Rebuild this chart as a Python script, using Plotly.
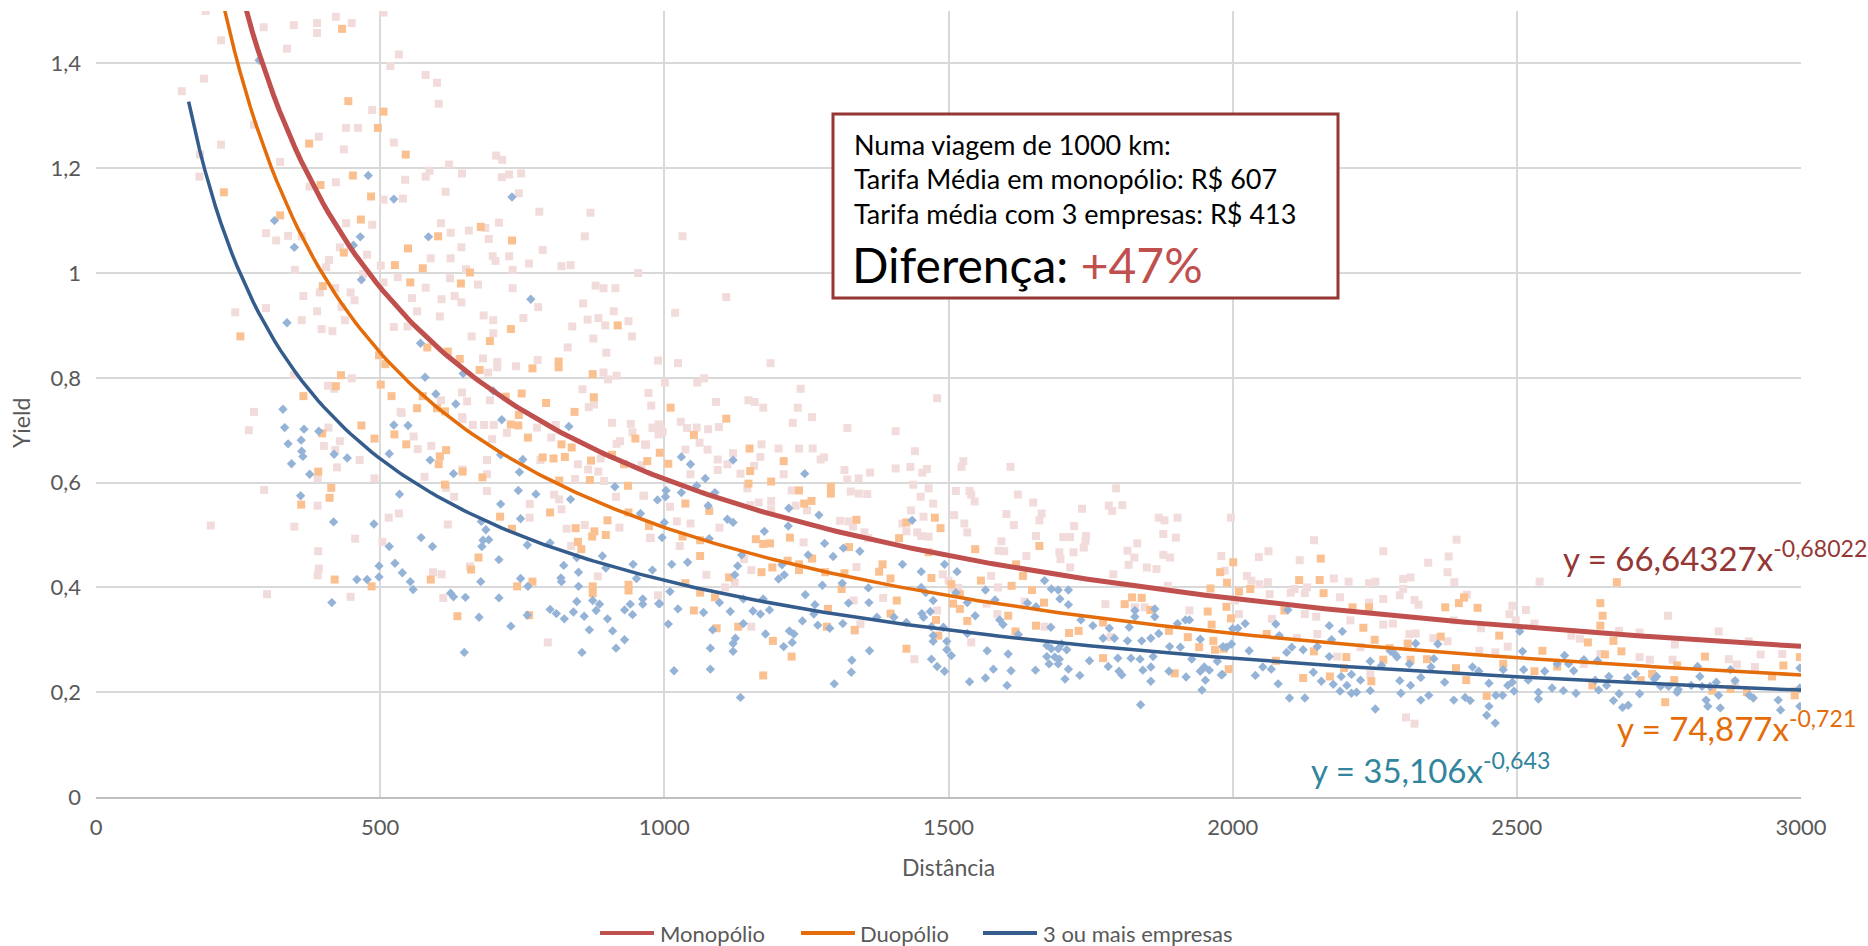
import plotly.graph_objects as go

# ---------------- data ----------------
mono_points = [
    (193,1.50),(220,1.444),(190,1.371),(151,1.347),(295,1.469),(348,1.473),(389,1.477),(389,1.458),
    (422,1.489),(450,1.477),(506,1.497),(336,1.428),(533,1.417),(518,1.395),(580,1.378),(600,1.363),
    (603,1.323),(486,1.311),(440,1.277),(461,1.277),(392,1.260),(436,1.236),(524,1.249),(220,1.245),
    (183,1.226),(324,1.212),(278,1.283),(182,1.184),(376,1.165),(422,1.173),(544,1.178),(580,1.184),
    (587,1.195),(621,1.207),(644,1.190),(704,1.224),(715,1.216),(714,1.183),(727,1.188),(748,1.190),
    (615,1.155),(506,1.140),(540,1.142),(744,1.152),(780,1.117),(870,1.115),(860,1.070),(440,1.095),
    (486,1.092),(607,1.095),(624,1.077),(656,1.081),(685,1.086),(709,1.096),(691,1.065),(643,1.049),
    (698,1.032),(727,1.032),(786,1.044),(299,1.076),(317,1.062),(338,1.071),(362,1.070),(429,1.049),
    (410,1.025),(405,1.011),(477,1.035),(501,1.014),(589,1.028),(624,1.028),(651,1.007),(703,1.023),
    (733,1.006),(762,1.018),(819,1.013),(835,1.015),(954,1.000),(350,1.006),(470,0.998),(531,0.992),
    (506,0.982),(580,0.972),(623,0.990),(672,0.978),(733,0.971),(879,0.976),(893,0.971),(914,0.971),
    (365,0.956),(394,0.963),(421,0.971),(448,0.963),(455,0.948),(556,0.952),(608,0.950),(631,0.956),
    (643,0.944),(857,0.942),(778,0.935),(299,0.933),(245,0.925),(389,0.927),(432,0.935),(565,0.927),
    (605,0.917),(682,0.919),(699,0.910),(752,0.914),(911,0.927),(865,0.911),(884,0.914),(937,0.908),
    (896,0.900),(838,0.898),(362,0.910),(438,0.910),(397,0.893),(416,0.889),(524,0.897),(548,0.898),
    (661,0.879),(699,0.885),(875,0.875),(943,0.879),(830,0.858),(898,0.848),(681,0.837),(706,0.830),
    (706,0.820),(739,0.822),(777,0.834),(690,0.810),(893,0.810),(916,0.804),(901,0.797),(856,0.778),
    (348,0.805),(450,0.799),(408,0.785),(419,0.779),(644,0.772),(607,0.757),(653,0.755),(693,0.757),
    (867,0.744),(876,0.749),(278,0.735),(536,0.735),(644,0.725),
    (1032,1.070),(1109,0.954),(1019,0.924),(989,0.833),(1024,0.828),(1187,0.828),(1001,0.791),
    (1058,0.791),(1070,0.799),(972,0.771),(977,0.747),(1091,0.754),(1148,0.757),(1159,0.754),
    (1174,0.743),(1235,0.743),(1240,0.779),(1480,0.761),(1260,0.725),
    (269,0.700),(296,0.586),(202,0.518),(349,0.516),(301,0.387),(390,0.608),(390,0.556),(391,0.469),
    (392,0.436),(390,0.423),(448,0.382),(401,0.670),(409,0.705),(429,0.679),(421,0.662),(424,0.629),
    (464,0.643),(490,0.608),(456,0.493),(504,0.487),(515,0.533),(533,0.541),(538,0.733),(559,0.688),
    (566,0.664),(578,0.611),(590,0.670),(616,0.590),(630,0.573),(619,0.520),(645,0.721),(645,0.625),
    (663,0.710),(683,0.710),(700,0.710),(688,0.643),(688,0.616),(688,0.584),(697,0.683),(723,0.695),
    (658,0.440),(593,0.429),(608,0.425),(611,0.380),(763,0.559),(763,0.533),(782,0.643),(776,0.705),
    (801,0.686),(809,0.710),(819,0.549),(806,0.577),(815,0.568),(828,0.512),(836,0.479),(843,0.607),
    (848,0.635),(866,0.625),(884,0.621),(894,0.603),(860,0.519),(908,0.714),(916,0.674),(922,0.679),
    (888,0.646),(915,0.573),(921,0.514),(941,0.712),(944,0.696),(968,0.673),(964,0.575),(976,0.494),
    (883,0.421),(795,0.295),(989,0.385),(960,0.633),(979,0.705),(993,0.705),(997,0.697),
    (1029,0.716),(1040,0.704),(1057,0.705),(1077,0.702),(1096,0.706),(980,0.704),(990,0.711),
    (990,0.692),(966,0.672),(1037,0.663),(1062,0.676),(1076,0.663),(1121,0.656),(1094,0.644),
    (1111,0.635),(1094,0.624),(1046,0.616),(1010,0.554),(963,0.575),(975,0.495),(1022,0.526),
    (1046,0.522),(1097,0.514),(1134,0.617),(1171,0.673),(1169,0.649),(1158,0.632),(1146,0.589),
    (1151,0.557),(1166,0.562),(1188,0.565),(1188,0.549),(1201,0.665),(1210,0.616),(1226,0.714),
    (1237,0.665),(1261,0.665),(1275,0.644),(1281,0.648),(1224,0.585),(1231,0.556),(1245,0.486),
    (1251,0.547),(1317,0.624),(1322,0.606),(1322,0.704),(1342,0.608),(1362,0.619),(1328,0.583),
    (1342,0.579),(1357,0.578),(1309,0.527),(1324,0.526),(1332,0.516),(1352,0.505),(1359,0.494),
    (1338,0.439),(1333,0.375),(1345,0.330),(1385,0.380),(1407,0.698),(1407,0.627),(1441,0.660),
    (1433,0.630),(1454,0.619),(1462,0.626),(1438,0.596),(1465,0.589),(1451,0.573),(1473,0.560),
    (1434,0.547),(1456,0.535),(1419,0.522),(1445,0.505),(1452,0.498),(1465,0.497),(1426,0.507),
    (1510,0.538),(1513,0.584),(1523,0.630),(1526,0.641),(1537,0.584),(1540,0.577),(1546,0.564),
    (1528,0.522),(1533,0.505),(1609,0.630),(1622,0.577),(1602,0.540),(1615,0.519),(1593,0.488),
    (1588,0.470),(1598,0.469),(1649,0.562),(1664,0.541),(1660,0.528),(1654,0.498),(1637,0.460),
    (1735,0.550),(1721,0.517),(1702,0.496),(1714,0.496),(1742,0.498),(1738,0.476),(1741,0.489),
    (1695,0.467),(1720,0.467),(1697,0.454),(1714,0.438),(1782,0.556),(1788,0.546),(1795,0.589),
    (1806,0.557),(1832,0.484),(1815,0.470),(1827,0.457),(1817,0.443),(1849,0.438),(1866,0.435),
    (1790,0.425),(1870,0.533),(1880,0.528),(1903,0.533),(1878,0.502),(1900,0.495),(1878,0.462),
    (1890,0.457),(1776,0.368),(1828,0.362),(1845,0.362),(1886,0.403),(1924,0.356),(1980,0.460),
    (1997,0.533),(1575,0.422),(1587,0.400),(1567,0.369),(1586,0.349),(1634,0.373),(1669,0.325),
    (1540,0.295),(1440,0.263),(1507,0.399),(1517,0.399),(1490,0.425),(1500,0.413),(1124,0.409),
    (1140,0.454),(1153,0.325),(1153,0.433),(1074,0.424),(1107,0.400),(1027,0.479),(1335,0.317),
    (1785,0.305),(1480,0.356),
    (2046,0.458),(2063,0.469),(2143,0.490),(2118,0.452),(2265,0.469),(2344,0.447),(2394,0.491),
    (2380,0.459),(2390,0.410),(1986,0.432),(2025,0.422),(2033,0.413),(2047,0.406),(2062,0.410),
    (2065,0.387),(2102,0.390),(2109,0.397),(2131,0.400),(2178,0.417),(2204,0.411),(2240,0.408),
    (2251,0.411),(2300,0.416),(2313,0.419),(2300,0.397),(2294,0.385),(2320,0.376),(2327,0.367),
    (2265,0.378),(2240,0.371),(2189,0.381),(2127,0.389),(2069,0.340),(2127,0.349),(2147,0.344),
    (2207,0.337),(2265,0.329),(2282,0.331),(2311,0.311),(2322,0.312),(2353,0.303),(2378,0.297),
    (2412,0.386),(2389,0.337),(2437,0.322),(2492,0.365),(2487,0.349),(2516,0.357),(2498,0.337),
    (2540,0.411),(2531,0.331),(2484,0.287),(2462,0.276),(2305,0.152),(2320,0.140),(2596,0.308),
    (2611,0.302),(2680,0.317),(2716,0.314),(2766,0.346),(2778,0.291),(2855,0.316),(2873,0.263),
    (2887,0.253),(2908,0.297),(2919,0.248),(2929,0.272),(2716,0.267),(2734,0.262),(2774,0.262),
    (2647,0.273),(2618,0.254),(2884,0.219),(2967,0.273),(2989,0.203),(2004,0.375),(2011,0.349),
    (2113,0.303),(2149,0.311),(2184,0.268),(2225,0.286),(2242,0.234),(2434,0.279),(2407,0.380),
    (2378,0.429),
]

duo_points = [
    (433,1.466),(444,1.328),(506,1.308),(496,1.277),(375,1.247),(545,1.226),(452,1.186),(395,1.168),
    (484,1.146),(225,1.154),(324,1.110),(466,1.102),(677,1.088),(602,1.070),(732,1.062),(549,1.047),
    (436,1.039),(526,1.015),(575,1.009),(658,1.001),(399,0.975),(553,0.982),(642,0.980),(730,0.893),
    (918,0.900),(254,0.879),(693,0.870),(583,0.858),(619,0.850),(640,0.836),(498,0.843),(509,0.826),
    (814,0.831),(814,0.820),(768,0.818),(675,0.815),(874,0.807),(431,0.805),(422,0.784),(501,0.787),
    (365,0.765),(520,0.765),(749,0.770),(876,0.763),(575,0.765),(792,0.752),(565,0.742),(600,0.742),
    (614,0.736),(744,0.729),(842,0.735),(1011,0.743),(1109,0.722),
    (398,0.694),(391,0.621),(414,0.590),(411,0.571),(361,0.558),(420,0.415),(467,0.709),(490,0.684),
    (485,0.402),(525,0.692),(546,0.673),(605,0.650),(603,0.635),(616,0.662),(614,0.596),(589,0.415),
    (636,0.345),(645,0.621),(660,0.434),(673,0.457),(680,0.610),(711,0.535),(732,0.512),(730,0.711),
    (743,0.709),(721,0.764),(760,0.686),(768,0.411),(741,0.402),(762,0.347),(786,0.648),(805,0.646),
    (799,0.543),(815,0.604),(819,0.673),(837,0.667),(825,0.649),(844,0.513),(848,0.487),(854,0.473),
    (871,0.642),(869,0.605),(873,0.497),(877,0.507),(874,0.402),(874,0.389),(897,0.500),(900,0.528),
    (908,0.653),(936,0.594),(937,0.543),(937,0.405),(937,0.394),(949,0.684),(970,0.641),(973,0.517),
    (992,0.657),(1007,0.636),(929,0.635),
    (1052,0.691),(1150,0.665),(1210,0.641),(1151,0.622),(1148,0.598),(1188,0.602),(1237,0.585),
    (1293,0.592),(1293,0.579),(1037,0.560),(1079,0.546),(1246,0.560),(1259,0.565),(1338,0.529),
    (1032,0.497),(1063,0.490),(1161,0.492),(1174,0.483),(1186,0.484),(1221,0.495),(1063,0.460),
    (1237,0.444),(1260,0.455),(1237,0.433),(1190,0.438),(1171,0.429),(1217,0.451),(1114,0.419),
    (1283,0.429),(1317,0.427),(1325,0.477),(1312,0.397),(1037,0.408),(1063,0.390),(1052,0.356),
    (1089,0.381),(1092,0.322),(1130,0.325),(1288,0.359),(1286,0.325),(1191,0.298),(1224,0.268),
    (1174,0.232),(1335,0.319),(1384,0.444),(1378,0.430),(1398,0.417),(1409,0.375),(1398,0.350),
    (1413,0.494),(1426,0.524),(1476,0.533),(1486,0.513),(1470,0.418),(1465,0.467),(1505,0.406),
    (1508,0.369),(1520,0.387),(1520,0.359),(1533,0.336),(1478,0.338),(1482,0.308),(1426,0.283),
    (1547,0.473),(1557,0.413),(1611,0.403),(1605,0.346),(1618,0.316),(1619,0.444),(1631,0.422),
    (1647,0.395),(1660,0.479),(1668,0.371),(1654,0.327),(1712,0.313),(1729,0.317),(1772,0.333),
    (1772,0.265),(1810,0.368),(1823,0.381),(1840,0.380),(1855,0.357),(1888,0.317),(1898,0.236),
    (1921,0.305),(1941,0.286),(1956,0.354),(1961,0.398),(1963,0.329),(1966,0.298),(1978,0.429),
    (1990,0.409),(1997,0.341),(1993,0.244),(2001,0.448),(1969,0.281),(1984,0.283),
    (2011,0.392),(2031,0.397),(1989,0.363),(2155,0.455),(2117,0.414),(2153,0.414),(2160,0.389),
    (2091,0.356),(2211,0.362),(2240,0.362),(2230,0.323),(2250,0.300),(2276,0.284),(2308,0.293),
    (2366,0.306),(2374,0.362),(2398,0.370),(2407,0.381),(2431,0.361),(2469,0.308),(2342,0.263),
    (2313,0.262),(2265,0.262),(2200,0.267),(2196,0.246),(2171,0.230),(2124,0.227),(2060,0.311),
    (2076,0.260),(2143,0.278),(2393,0.246),(2411,0.223),(2447,0.193),(2244,0.221),(2676,0.410),
    (2647,0.370),(2651,0.346),(2647,0.327),(2625,0.295),(2655,0.272),(2684,0.278),(2670,0.298),
    (2545,0.279),(2531,0.240),(2476,0.254),(2571,0.249),(2633,0.213),(2718,0.223),(2738,0.235),
    (2782,0.251),(2777,0.223),(2831,0.268),(2761,0.181),(2876,0.206),(2905,0.200),(2969,0.251),
    (2949,0.230),(2989,0.194),(2998,0.267),(2844,0.203),
]

tres_points = [
    (287,1.406),(479,1.186),(524,1.141),(732,1.145),(314,1.100),(465,1.069),(585,1.069),(453,1.053),
    (349,1.049),(467,0.987),(765,0.950),(336,0.905),(571,0.866),(579,0.801),(646,0.808),(598,0.769),
    (633,0.750),(699,0.775),(329,0.740),(714,0.720),
    (332,0.705),(366,0.702),(392,0.698),(338,0.674),(361,0.681),(362,0.660),(364,0.650),(344,0.636),
    (376,0.616),(419,0.654),(442,0.647),(360,0.575),(418,0.525),(415,0.371),(489,0.521),(459,0.415),
    (477,0.415),(498,0.420),(498,0.441),(516,0.478),(526,0.446),(539,0.428),(553,0.411),(558,0.396),
    (516,0.655),(524,0.710),(549,0.709),(534,0.578),(572,0.495),(592,0.478),(588,0.643),(629,0.617),
    (624,0.389),(629,0.382),(650,0.381),(648,0.276),(674,0.343),(677,0.411),(679,0.478),(681,0.490),
    (691,0.491),(686,0.510),(678,0.526),(709,0.453),(709,0.380),(712,0.559),(712,0.653),(730,0.326),
    (743,0.585),(745,0.620),(747,0.531),(751,0.644),(774,0.578),(759,0.481),(747,0.417),(760,0.402),
    (759,0.347),(799,0.485),(799,0.358),(810,0.350),(824,0.340),(840,0.353),(846,0.373),(823,0.442),
    (818,0.418),(819,0.411),(849,0.429),(849,0.402),(846,0.457),(855,0.276),(859,0.345),(868,0.319),
    (874,0.375),(880,0.356),(886,0.368),(891,0.460),(897,0.437),(900,0.340),(909,0.317),(915,0.284),
    (930,0.300),(930,0.357),(940,0.368),(944,0.348),(945,0.444),(951,0.417),(962,0.378),(962,0.368),
    (979,0.433),(992,0.369),(996,0.495),(988,0.567),(1002,0.573),(958,0.541),(913,0.592),(832,0.707),
    (835,0.568),
    (1030,0.649),(1046,0.635),(1003,0.585),(1057,0.594),(1072,0.608),(1030,0.581),(1089,0.581),
    (1077,0.556),(1121,0.643),(1000,0.524),(1079,0.493),(1111,0.530),(1121,0.524),(1136,0.462),
    (1129,0.441),(1124,0.424),(1219,0.551),(1218,0.517),(1247,0.617),(1272,0.538),(1176,0.507),
    (1211,0.424),(1201,0.416),(1207,0.443),(1253,0.462),(1282,0.484),(1297,0.459),(1315,0.475),
    (1344,0.469),(1278,0.404),(1248,0.386),(1313,0.408),(1359,0.399),(1360,0.371),(1324,0.370),
    (1265,0.367),(1263,0.349),(1243,0.336),(1270,0.328),(1291,0.322),(1314,0.331),(1220,0.317),
    (1228,0.311),(1225,0.295),(1210,0.287),(1178,0.311),(1156,0.355),(1169,0.349),(1185,0.357),
    (1174,0.378),(1139,0.378),(1139,0.331),(1134,0.190),(1299,0.216),(1329,0.238),(1330,0.261),
    (1361,0.279),(1085,0.319),(1081,0.284),(1081,0.244),(1017,0.241),(1121,0.278),(1121,0.293),
    (1125,0.303),(1116,0.354),(1097,0.371),(1069,0.352),(1007,0.330),(1024,0.359),(1010,0.392),
    (990,0.369),(1013,0.444),(1041,0.448),(1374,0.343),(1404,0.343),(1426,0.333),(1419,0.444),
    (1436,0.528),(1452,0.430),(1452,0.400),(1460,0.390),(1473,0.375),(1453,0.350),(1468,0.354),
    (1456,0.343),(1470,0.325),(1473,0.308),(1473,0.297),(1493,0.444),(1515,0.430),(1513,0.390),
    (1533,0.371),(1547,0.346),(1533,0.312),(1491,0.324),(1497,0.297),(1497,0.281),(1505,0.270),
    (1493,0.240),(1480,0.249),(1470,0.263),(1537,0.220),(1565,0.227),(1579,0.244),(1568,0.279),
    (1603,0.213),(1610,0.241),(1605,0.273),(1590,0.338),(1596,0.329),(1565,0.395),(1582,0.376),
    (1623,0.310),(1639,0.370),(1654,0.363),(1653,0.242),(1669,0.413),(1681,0.397),(1693,0.395),
    (1696,0.378),(1711,0.395),(1711,0.367),(1680,0.324),(1673,0.289),(1681,0.283),(1693,0.283),
    (1699,0.292),(1673,0.268),(1687,0.267),(1695,0.263),(1708,0.281),(1677,0.254),(1693,0.254),
    (1711,0.244),(1705,0.225),(1731,0.232),(1733,0.338),(1754,0.327),(1748,0.260),(1772,0.303),
    (1781,0.249),(1792,0.303),(1783,0.322),(1800,0.240),(1805,0.233),(1798,0.265),(1815,0.298),
    (1818,0.324),(1821,0.265),(1828,0.356),(1828,0.344),(1840,0.298),(1837,0.263),(1842,0.242),
    (1838,0.176),(1856,0.303),(1863,0.359),(1863,0.344),(1860,0.268),(1856,0.248),(1856,0.221),
    (1870,0.312),(1888,0.240),(1889,0.287),(1908,0.286),(1918,0.229),(1903,0.331),(1917,0.338),
    (1924,0.338),(1928,0.263),(1943,0.301),(1943,0.240),(1950,0.248),(1946,0.204),(1952,0.223),
    (1959,0.242),(1973,0.259),(1980,0.233),(1983,0.287),(1998,0.292),(2000,0.321),
    (2009,0.322),(2022,0.331),(1989,0.286),(2029,0.279),(2053,0.248),(2040,0.232),(1982,0.234),
    (2076,0.330),(2082,0.308),(2068,0.244),(2080,0.216),(2097,0.357),(2095,0.276),(2104,0.286),
    (2124,0.281),(2100,0.189),(2127,0.189),(2142,0.238),(2156,0.221),(2170,0.327),(2170,0.268),
    (2149,0.287),(2174,0.300),(2193,0.316),(2177,0.215),(2189,0.202),(2191,0.230),(2201,0.213),
    (2209,0.234),(2209,0.198),(2218,0.200),(2225,0.223),(2242,0.203),(2242,0.259),(2251,0.168),
    (2262,0.251),(2278,0.278),(2286,0.272),(2289,0.267),(2294,0.222),(2296,0.198),(2311,0.254),
    (2313,0.213),(2322,0.293),(2331,0.185),(2331,0.228),(2345,0.194),(2349,0.248),(2354,0.264),
    (2361,0.292),(2373,0.219),(2389,0.185),(2409,0.190),(2418,0.184),(2422,0.248),(2433,0.240),
    (2451,0.217),(2451,0.173),(2447,0.156),(2462,0.141),(2463,0.194),(2475,0.194),(2476,0.243),
    (2484,0.213),(2492,0.219),(2495,0.202),(2505,0.316),(2510,0.278),(2512,0.243),(2520,0.223),
    (2538,0.200),(2538,0.187),(2549,0.240),(2562,0.208),(2571,0.254),(2582,0.203),(2584,0.270),
    (2591,0.254),(2600,0.241),(2604,0.198),(2618,0.262),(2638,0.223),(2642,0.260),(2644,0.204),
    (2658,0.213),(2662,0.230),(2670,0.184),(2680,0.197),(2686,0.171),(2696,0.175),(2695,0.227),
    (2709,0.235),(2716,0.197),(2742,0.225),(2746,0.230),(2753,0.211),(2767,0.211),(2782,0.200),
    (2784,0.205),(2807,0.213),(2818,0.249),(2822,0.230),(2826,0.211),(2833,0.185),(2836,0.173),
    (2840,0.211),(2851,0.219),(2855,0.194),(2858,0.170),(2876,0.243),(2884,0.222),(2909,0.194),
    (2916,0.189),(2960,0.185),(2964,0.166),(2998,0.246),(2998,0.208),(2998,0.173),
]

series_names = ["Monopólio", "Duopólio", "3 ou mais empresas"]

# power trendlines shown on the chart: y = a * x^b
mono_a, mono_b = 66.64327, -0.68022
duo_a, duo_b = 74.877, -0.721
tres_a, tres_b = 35.106, -0.643
mono_trend_range = (151, 3000)
duo_trend_range = (225, 3000)
tres_trend_range = (163, 3000)

mono_eq = "y = 66,64327x<sup>-0,68022</sup>"
duo_eq = "y = 74,877x<sup>-0,721</sup>"
tres_eq = "y = 35,106x<sup>-0,643</sup>"

x_ticks = [0, 500, 1000, 1500, 2000, 2500, 3000]
y_ticks = [0, 0.2, 0.4, 0.6, 0.8, 1.0, 1.2, 1.4]
y_ticktext = ["0", "0,2", "0,4", "0,6", "0,8", "1", "1,2", "1,4"]

box_lines = ["Numa viagem de 1000 km:",
             "Tarifa Média em monopólio: R$ 607",
             "Tarifa média com 3 empresas: R$ 413"]
box_diff = "+47%"

# ---------------- figure ----------------
FONT = "Lato"
GREY = "#595959"

def unzip(pts):
    return [p[0] for p in pts], [p[1] for p in pts]

def trend(a, b, rng, n=300):
    x0, x1 = rng
    xs = [x0 + (x1 - x0) * i / (n - 1) for i in range(n)]
    return xs, [a * x ** b for x in xs]

fig = go.Figure()

mx, my = unzip(mono_points)
dx, dy = unzip(duo_points)
tx, ty = unzip(tres_points)

fig.add_trace(go.Scatter(x=mx, y=my, mode="markers", name=series_names[0], showlegend=False,
                         marker=dict(symbol="square", size=8, color="#f2dcdb")))
fig.add_trace(go.Scatter(x=dx, y=dy, mode="markers", name=series_names[1], showlegend=False,
                         marker=dict(symbol="square", size=8, color="#fac090")))
fig.add_trace(go.Scatter(x=tx, y=ty, mode="markers", name=series_names[2], showlegend=False,
                         marker=dict(symbol="diamond", size=7.2, color="#95b3d7")))

trend_colors = ["#c0504d", "#e46c0a", "#345c8c"]
trend_widths = [5, 3.5, 3.5]
for (a, b, rng), col, w, nm in zip(
        [(mono_a, mono_b, mono_trend_range), (duo_a, duo_b, duo_trend_range), (tres_a, tres_b, tres_trend_range)],
        trend_colors, trend_widths, series_names):
    xs, ys = trend(a, b, rng)
    fig.add_trace(go.Scatter(x=xs, y=ys, mode="lines", name=nm, showlegend=False,
                             line=dict(color=col, width=w)))

# plot area in pixels (for layout of texts)
W, H = 1868, 946
L, R, T, B = 96, 67, 11, 149
pw, ph = W - L - R, H - T - B

def px(xp):
    return (xp - L) / pw

def py(yp):
    return (H - B - yp) / ph

annotations = []
# equations
annotations.append(dict(x=px(1561), y=py(556), xref="paper", yref="paper", text=mono_eq,
                        xanchor="left", yanchor="middle", showarrow=False,
                        font=dict(family=FONT, size=33, color="#953735")))
annotations.append(dict(x=px(1615), y=py(726), xref="paper", yref="paper", text=duo_eq,
                        xanchor="left", yanchor="middle", showarrow=False,
                        font=dict(family=FONT, size=33, color="#e46c0a")))
annotations.append(dict(x=px(1309), y=py(768), xref="paper", yref="paper", text=tres_eq,
                        xanchor="left", yanchor="middle", showarrow=False,
                        font=dict(family=FONT, size=33, color="#31859c")))
# text box
for txt, yy in zip(box_lines, [144, 178, 213]):
    annotations.append(dict(x=px(852), y=py(yy), xref="paper", yref="paper", text=txt,
                            xanchor="left", yanchor="middle", showarrow=False,
                            font=dict(family=FONT, size=27, color="#000000")))
annotations.append(dict(x=px(850), y=py(264), xref="paper", yref="paper",
                        text="Diferença: <span style='color:#c0504d'>" + box_diff + "</span>",
                        xanchor="left", yanchor="middle", showarrow=False,
                        font=dict(family=FONT, size=48, color="#000000")))
# axis titles
annotations.append(dict(x=px(949), y=py(867), xref="paper", yref="paper", text="Distância",
                        xanchor="center", yanchor="middle", showarrow=False,
                        font=dict(family=FONT, size=23, color=GREY)))
annotations.append(dict(x=px(21), y=py(423), xref="paper", yref="paper", text="Yield",
                        textangle=-90, xanchor="center", yanchor="middle", showarrow=False,
                        font=dict(family=FONT, size=23, color=GREY)))

shapes = [dict(type="rect", xref="paper", yref="paper", x0=px(833), x1=px(1338), y0=py(298), y1=py(114),
               line=dict(color="#953735", width=3), fillcolor="white", layer="above")]

# legend drawn manually
leg_y = py(933)
for (x0, x1, xt), col, nm in zip([(600, 654, 658), (801, 855, 858), (983, 1037, 1041)], trend_colors, series_names):
    shapes.append(dict(type="line", xref="paper", yref="paper", x0=px(x0), x1=px(x1), y0=leg_y, y1=leg_y,
                       line=dict(color=col, width=4)))
    annotations.append(dict(x=px(xt), y=leg_y, xref="paper", yref="paper", text=nm,
                            xanchor="left", yanchor="middle", showarrow=False,
                            font=dict(family=FONT, size=22, color=GREY)))

fig.update_layout(
    width=W, height=H,
    margin=dict(l=L, r=R, t=T, b=B),
    plot_bgcolor="white", paper_bgcolor="white",
    showlegend=False,
    font=dict(family=FONT, color=GREY, size=22),
    xaxis=dict(range=[0, 3000], tickvals=x_ticks, showgrid=True, gridcolor="#d9d9d9", gridwidth=1.5,
               zeroline=False, showline=True, linecolor="#bfbfbf", linewidth=2, ticks="",
               ticklabelstandoff=10, tickfont=dict(family=FONT, size=22, color=GREY)),
    yaxis=dict(range=[0, 1.5], tickvals=y_ticks, ticktext=y_ticktext, showgrid=True, gridcolor="#d9d9d9",
               gridwidth=1.5, zeroline=False, showline=False, ticks="", ticklabelstandoff=14,
               tickfont=dict(family=FONT, size=22, color=GREY)),
    annotations=annotations,
    shapes=shapes,
)

fig.write_html("out.html", config={"displayModeBar": False},
               post_script="document.body.style.margin='0px';")
